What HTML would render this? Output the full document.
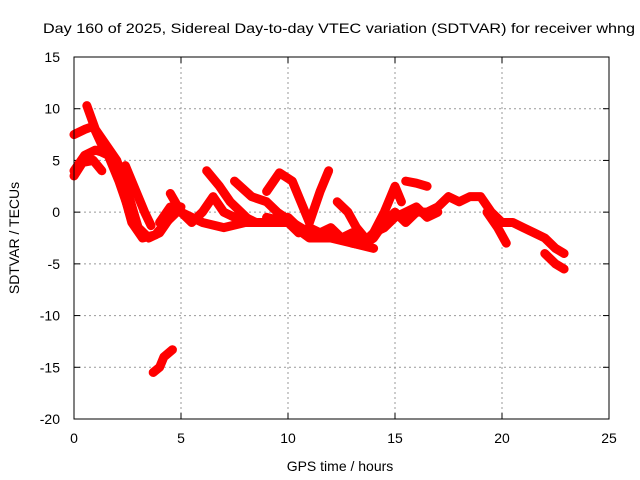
<!DOCTYPE html>
<html><head><meta charset="utf-8"><style>
body{margin:0;background:#fff}
svg{display:block;font-family:"Liberation Sans",sans-serif}
</style></head><body>
<svg id="chart" width="640" height="480">
<rect width="640" height="480" fill="#fff"/>
<text x="339" y="33" font-size="14" text-anchor="middle" textLength="592" lengthAdjust="spacingAndGlyphs">Day 160 of 2025, Sidereal Day-to-day VTEC variation (SDTVAR) for receiver whng</text>
<g id="grid"></g>
<g id="axes"></g>
<g id="series"></g>
<rect x="74" y="57" width="535" height="362" fill="none" stroke="#000" stroke-width="1"/>
<text x="340" y="471" font-size="14" text-anchor="middle">GPS time / hours</text>
<text x="19" y="238" font-size="14" text-anchor="middle" transform="rotate(-90 19 238)">SDTVAR / TECUs</text>
</svg>
<script>
const xTicks=[0,5,10,15,20,25];
const yTicks=[15,10,5,0,-5,-10,-15,-20];
const trackAh=[0.6,1.0,1.5,2.0,2.5,3.0,3.5,4.0,4.5,5.0];
const trackAv=[10.3,8,6.5,5,2,-1.5,-2.5,-2,-0.5,0.5];
const trackBh=[0,0.5,0.9,1.3,1.8,2.3,2.7,3.2,3.8,4.3,4.8];
const trackBv=[7.5,8,8.3,6.5,5,2,-1,-2.5,-2.2,-1,0];
const trackCh=[0,0.5,1.0,1.3,1.6,2.1,2.6];
const trackCv=[4,5.5,6,5.8,5.5,3,0];
const trackDh=[0,0.4,0.9,1.3];
const trackDv=[3.5,4.8,5,4];
const trackEh=[2.4,2.9,3.3,3.6];
const trackEv=[4.5,2,0,-1.3];
const trackFh=[3.7,4.0,4.2,4.6];
const trackFv=[-15.5,-15,-14,-13.3];
const trackGh=[4,4.5,5,5.5,6,6.5,7,7.5,8,8.5,9,9.5,10,10.5,11,12,13,13.5,14,14.5,15,15.5,16,16.5,17,17.5,18,18.5,19,19.5,20,20.5,21,21.5,22,22.5,22.9];
const trackGv=[-1,0.5,0,-1,0,1.5,0,-0.5,-0.5,-1,-1,-0.5,-0.5,-1.5,-2,-2,-3,-3.2,-2.5,-1,0,-1,0,0,0.5,1.5,1,1.5,1.5,0,-1,-1,-1.5,-2,-2.5,-3.5,-4];
const trackHh=[4.5,5,5.5,6,7,8,9,10,11,12,13,14];
const trackHv=[1.8,0,-0.5,-1,-1.5,-1,-1,-1,-2.5,-2.5,-3,-3.5];
const trackQh=[9,10,10.5,11,11.5,12,12.5,13,13.5,14,14.5,15,15.5,16,16.5,17];
const trackQv=[-0.5,-1,-2,-1.5,-2,-1.5,-2.5,-2,-3,-2,-1.5,-0.5,0,0.5,-0.5,0];
const trackIh=[6.2,6.8,7.3,7.8,8.3];
const trackIv=[4,2.5,1,0,-1];
const trackJh=[7.5,8.3,9,9.5,10.2,11];
const trackJv=[3,1.5,1,0,-1,-2];
const trackKh=[9.0,9.6,10.2,10.6,11,11.5,11.9];
const trackKv=[2,3.8,3,1,-1,2,4];
const trackLh=[12.3,12.8,13.2,13.6];
const trackLv=[1,0,-1.5,-2.5];
const trackMh=[14,14.5,15,15.3];
const trackMv=[-2,0,2.5,1];
const trackNh=[15.5,16,16.5];
const trackNv=[3,2.8,2.5];
const trackOh=[19.3,19.8,20.2];
const trackOv=[0,-1.5,-3];
const trackPh=[22,22.5,22.9];
const trackPv=[-4,-5,-5.5];
const tracks=[[trackAh,trackAv],[trackBh,trackBv],[trackCh,trackCv],[trackDh,trackDv],[trackEh,trackEv],[trackFh,trackFv],[trackGh,trackGv],[trackHh,trackHv],[trackQh,trackQv],[trackIh,trackIv],[trackJh,trackJv],[trackKh,trackKv],[trackLh,trackLv],[trackMh,trackMv],[trackNh,trackNv],[trackOh,trackOv],[trackPh,trackPv]];
const X0=74,X1=609,Y0=419,Y1=57;
function xs(h){return X0+(h-0)/(25-0)*(X1-X0);}
function ys(v){return Y0-(v+20)/(35)*(Y0-Y1);}
const NS='http://www.w3.org/2000/svg';
const grid=document.getElementById('grid'),axes=document.getElementById('axes'),ser=document.getElementById('series');
function mk(tag,attrs,parent){const e=document.createElementNS(NS,tag);for(const k in attrs)e.setAttribute(k,attrs[k]);parent.appendChild(e);return e;}
xTicks.forEach(t=>{
  const x=xs(t);
  if(t>0&&t<25){const g=mk('line',{x1:x,y1:Y1,x2:x,y2:Y0,stroke:'#999','stroke-dasharray':'2,3'},grid);
  
  }
  mk('line',{x1:x,y1:Y0,x2:x,y2:Y0-6,stroke:'#000'},axes);
  mk('line',{x1:x,y1:Y1,x2:x,y2:Y1+6,stroke:'#000'},axes);
  const l=mk('text',{x:x,y:Y0+24,'font-size':14,'text-anchor':'middle'},axes);l.textContent=t;
  
  
});
yTicks.forEach(t=>{
  const y=ys(t);
  if(t>-20&&t<15){const g=mk('line',{x1:X0,y1:y,x2:X1,y2:y,stroke:'#999','stroke-dasharray':'2,3'},grid);
  
  }
  mk('line',{x1:X0,y1:y,x2:X0+6,y2:y,stroke:'#000'},axes);
  mk('line',{x1:X1,y1:y,x2:X1-6,y2:y,stroke:'#000'},axes);
  const l=mk('text',{x:X0-14,y:y+5,'font-size':14,'text-anchor':'end'},axes);l.textContent=t;
  
  
});
tracks.forEach(([hs,vs])=>{
  const pts=hs.map((h,i)=>xs(h)+','+ys(vs[i])).join(' ');
  const p=mk('polyline',{points:pts,fill:'none',stroke:'#f00','stroke-width':9,'stroke-linejoin':'round','stroke-linecap':'round'},ser);
  
  
});
</script>
</body></html>
